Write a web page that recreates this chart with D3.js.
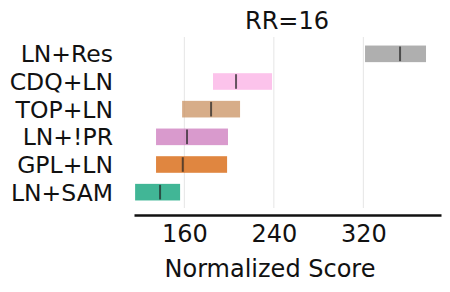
<!DOCTYPE html>
<html><head><meta charset="utf-8">
<script src="https://cdn.jsdelivr.net/npm/d3@7"></script>
<style>body{margin:0;background:#fff}svg{display:block}text{font-family:"DejaVu Sans",sans-serif;fill:#111}</style>
</head><body><div id="chart"></div>
<script>
const categories = ["LN+Res","CDQ+LN","TOP+LN","LN+!PR","GPL+LN","LN+SAM"];
const lows    = [321.5, 185.6, 158.0, 134.7, 134.7, 116.0];
const highs   = [376.0, 238.4, 209.8, 199.0, 198.2, 156.2];
const medians = [352.8, 206.2, 183.9, 162.4, 158.6, 138.3];
const colors  = ["#949494","#fbafe4","#ca9161","#cc78bc","#d55e00","#029e73"];
const ticks   = [160, 240, 320];
const title = "RR=16";
const xLabel = "Normalized Score";

(function(){
const W = 450, H = 292;
const mLeft = 134, mRight = 441, mTop = 40, mBottom = 206;
const svg = d3.select("#chart").append("svg").attr("width", W).attr("height", H);
const x = d3.scaleLinear().domain([115, 389.4]).range([mLeft, mRight]);
const y = d3.scaleBand().domain(categories).range([mTop, mBottom]).paddingInner(0.4).paddingOuter(0.2);

svg.append("g").selectAll("line").data(ticks).join("line")
  .attr("x1", d => x(d)).attr("x2", d => x(d)).attr("y1", 37).attr("y2", 208)
  .attr("stroke", "#e6e6e6").attr("stroke-width", 1);

svg.append("g").selectAll("rect").data(categories).join("rect")
  .attr("x", (d,i) => x(lows[i])).attr("width", (d,i) => x(highs[i]) - x(lows[i]))
  .attr("y", d => y(d)).attr("height", y.bandwidth())
  .attr("fill", (d,i) => colors[i]).attr("fill-opacity", 0.75);

svg.append("g").selectAll("line").data(categories).join("line")
  .attr("x1", (d,i) => x(medians[i])).attr("x2", (d,i) => x(medians[i]))
  .attr("y1", d => y(d) + 1).attr("y2", d => y(d) + y.bandwidth() - 1)
  .attr("stroke", "#222").attr("stroke-opacity", 0.7).attr("stroke-width", 2);

svg.append("g").selectAll("text").data(categories).join("text")
  .attr("x", 113).attr("y", d => y(d) + y.bandwidth()/2 + 8.5)
  .attr("text-anchor", "end").attr("font-size", 23.5).text(d => d);

const ax = svg.append("g").attr("transform", `translate(0,215)`)
  .call(d3.axisBottom(x).tickValues(ticks).tickSize(0).tickPadding(7).tickFormat(d3.format("d")));
ax.select(".domain").attr("stroke", "#111").attr("stroke-width", 2.5);
ax.selectAll("text").attr("font-size", 24).attr("font-family", "DejaVu Sans").attr("fill", "#111").attr("dy", "0.85em");

svg.append("text").attr("x", 270).attr("y", 277).attr("text-anchor", "middle").attr("font-size", 24).text(xLabel);
svg.append("text").attr("x", 287).attr("y", 29).attr("text-anchor", "middle").attr("font-size", 24).text(title);
})();
</script></body></html>
